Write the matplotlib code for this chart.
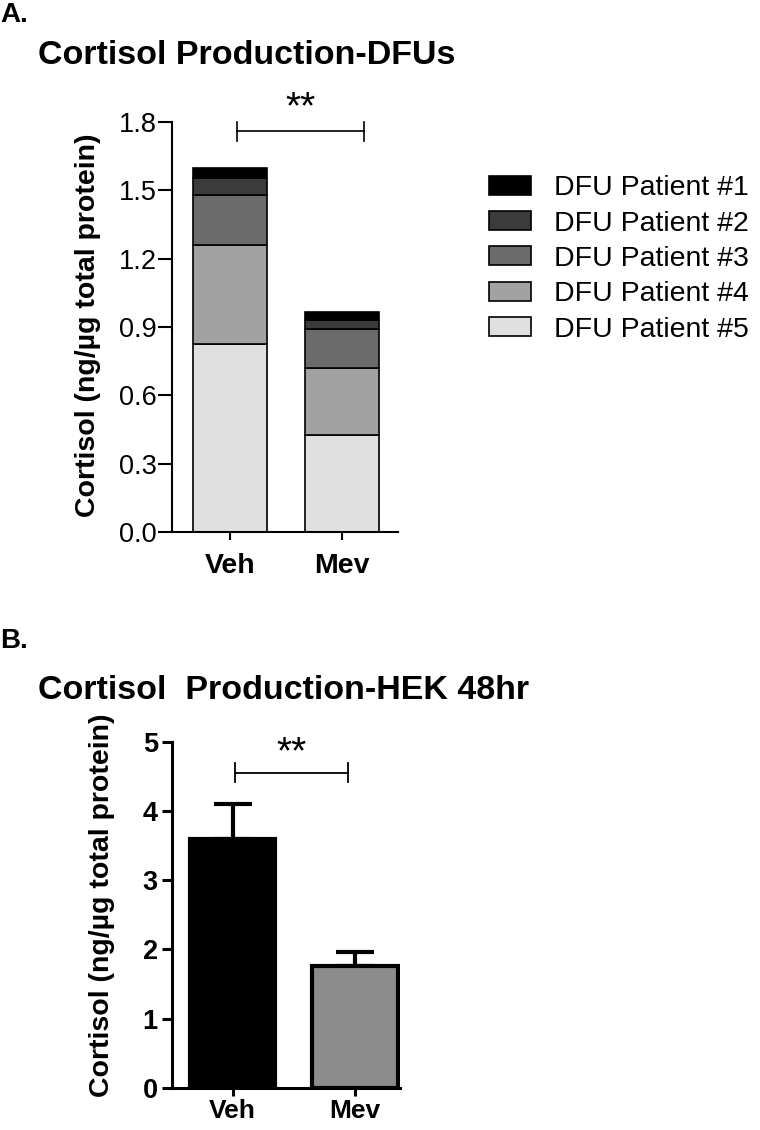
import matplotlib
matplotlib.use("Agg")
import matplotlib.pyplot as plt
from matplotlib.patches import Patch

plt.rcParams['font.family'] = ['Liberation Sans', 'DejaVu Sans']

# ---- Data ----
groups = ["Veh", "Mev"]
patients = ["DFU Patient #1", "DFU Patient #2", "DFU Patient #3", "DFU Patient #4", "DFU Patient #5"]
# stacked values, per patient (Veh, Mev)
p1 = [0.045, 0.032]
p2 = [0.074, 0.042]
p3 = [0.219, 0.169]
p4 = [0.437, 0.298]
p5 = [0.825, 0.424]
patient_colors = ["#000000", "#3b3b3b", "#6b6b6b", "#a2a2a2", "#e0e0e0"]

hek_means = [3.60, 1.76]
hek_err = [0.50, 0.20]
hek_colors = ["#000000", "#8c8c8c"]

yticks_a = [0.0, 0.3, 0.6, 0.9, 1.2, 1.5, 1.8]
yticks_b = [0, 1, 2, 3, 4, 5]

fig = plt.figure(figsize=(7.6, 11.3), dpi=100)

# ---- Panel A ----
axA = fig.add_axes([0.2263, 0.5292, 0.2974, 0.3628])
x = [0, 1]
stack_bottom_up = [p5, p4, p3, p2, p1]
colors_bottom_up = patient_colors[::-1]
bottom = [0.0, 0.0]
for vals, c in zip(stack_bottom_up, colors_bottom_up):
    axA.bar(x, vals, width=0.66, bottom=bottom, color=c, edgecolor="black", linewidth=1.2, zorder=2)
    bottom = [b + v for b, v in zip(bottom, vals)]
axA.set_xlim(-0.518, 1.5)
axA.set_ylim(0, 1.8)
axA.set_yticks(yticks_a)
axA.set_yticklabels([f"{t:.1f}" for t in yticks_a], fontsize=19.5)
axA.set_xticks(x)
axA.set_xticklabels(groups, fontsize=20.5, fontweight="bold")
axA.tick_params(axis="y", length=10, width=1.5, pad=1)
axA.tick_params(axis="x", length=6, width=1.5, pad=9)
for s in ["top", "right"]:
    axA.spines[s].set_visible(False)
for s in ["left", "bottom"]:
    axA.spines[s].set_linewidth(1.5)
axA.set_ylabel("Cortisol (ng/µg total protein)", fontsize=20.5, fontweight="bold")
axA.yaxis.set_label_coords(-0.315, 0.505)

# significance bracket A
axA.plot([0.06, 1.196], [1.761, 1.761], color="black", lw=1.2, clip_on=False)
axA.plot([0.06, 0.06], [1.717, 1.80], color="black", lw=1.2, clip_on=False)
axA.plot([1.196, 1.196], [1.717, 1.80], color="black", lw=1.2, clip_on=False)
axA.text(0.63, 1.86, "**", ha="center", va="center", fontsize=28)

handles = [Patch(facecolor=c, edgecolor="black", linewidth=1.2) for c in patient_colors]
fig.legend(handles, patients, loc="upper left", bbox_to_anchor=(0.643, 0.845),
           frameon=False, fontsize=20.5, handlelength=1.5, handleheight=0.65,
           labelspacing=0.33, handletextpad=0.8, borderaxespad=0, borderpad=0)

fig.text(0.0, 0.987, "A.", fontsize=20, fontweight="bold", va="center", ha="left")
fig.text(0.05, 0.951, "Cortisol Production-DFUs", fontsize=24.5, fontweight="bold", va="center", ha="left")

# ---- Panel B ----
axB = fig.add_axes([0.2259, 0.0375, 0.3005, 0.3056])
axB.bar(x, hek_means, width=0.70, color=hek_colors, edgecolor="black", linewidth=3, zorder=2)
axB.errorbar(x, hek_means, yerr=[[0, 0], hek_err], fmt="none", ecolor="black",
             elinewidth=3, capsize=14, capthick=3, zorder=1)
axB.set_xlim(-0.5, 1.37)
axB.set_ylim(0, 5)
axB.set_yticks(yticks_b)
axB.set_yticklabels([str(t) for t in yticks_b], fontsize=19.5, fontweight="bold")
axB.set_xticks(x)
axB.set_xticklabels(groups, fontsize=19, fontweight="bold")
axB.tick_params(axis="y", length=7, width=2.2, pad=3)
axB.tick_params(axis="x", length=6, width=2.2, pad=2)
for s in ["top", "right"]:
    axB.spines[s].set_visible(False)
for s in ["left", "bottom"]:
    axB.spines[s].set_linewidth(2.2)
axB.set_ylabel("Cortisol (ng/µg total protein)", fontsize=20.5, fontweight="bold")
axB.yaxis.set_label_coords(-0.25, 0.527)

axB.plot([0.02, 0.945], [4.55, 4.55], color="black", lw=1.3, clip_on=False)
axB.plot([0.02, 0.02], [4.42, 4.70], color="black", lw=1.3, clip_on=False)
axB.plot([0.945, 0.945], [4.42, 4.70], color="black", lw=1.3, clip_on=False)
axB.text(0.48, 4.84, "**", ha="center", va="center", fontsize=28)

fig.text(0.0, 0.433, "B.", fontsize=20, fontweight="bold", va="center", ha="left")
fig.text(0.05, 0.389, "Cortisol  Production-HEK 48hr", fontsize=24.5, fontweight="bold", va="center", ha="left")

fig.savefig("out.png", dpi=100)
